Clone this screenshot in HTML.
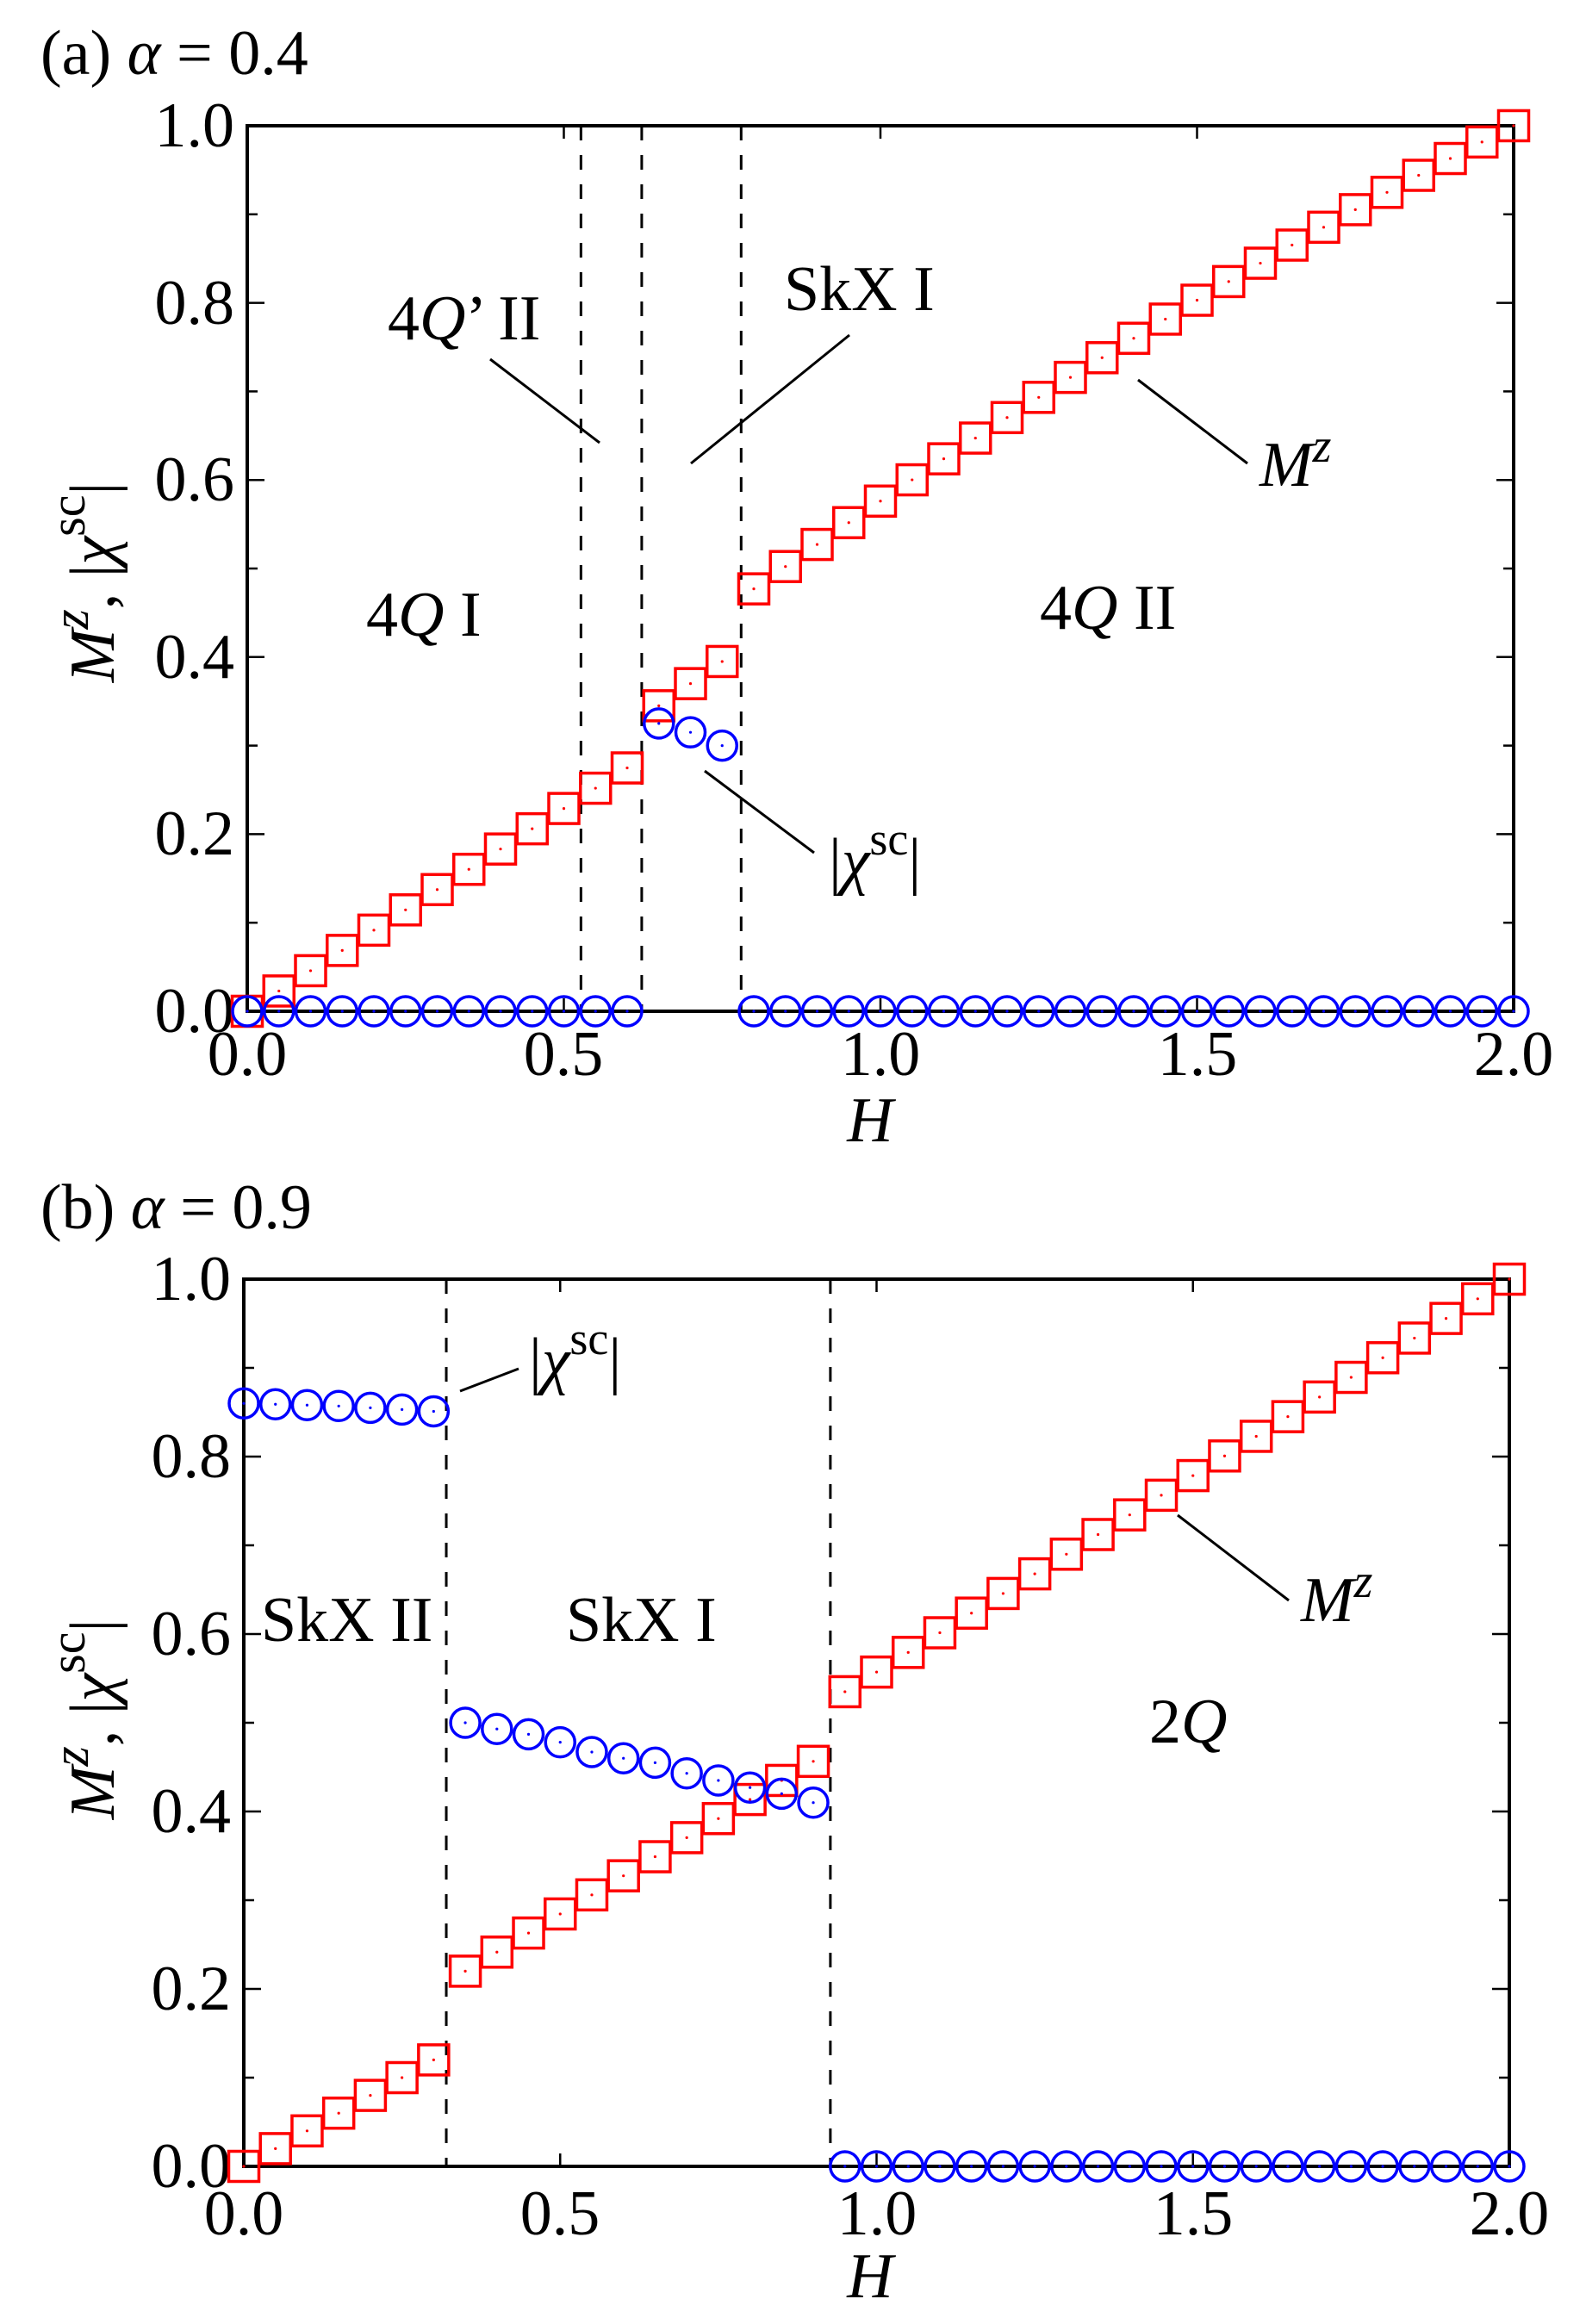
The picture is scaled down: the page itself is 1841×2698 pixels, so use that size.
<!DOCTYPE html>
<html><head><meta charset="utf-8">
<style>
html,body{margin:0;padding:0;background:#fff;}
svg{display:block;}
text{font-family:"Liberation Serif",serif;fill:#000;}
.t{font-size:74px;}
.i{font-style:italic;}
</style></head>
<body>
<svg id="s" width="1841" height="2698" viewBox="0 0 1841 2698" xmlns="http://www.w3.org/2000/svg">
<text class="t" x="47" y="86">(a) <tspan class="i">α</tspan> = 0.4</text>
<text class="t" x="450" y="394">4<tspan class="i">Q</tspan>’ II</text>
<text class="t" x="910" y="360">SkX I</text>
<text class="t" x="425" y="738">4<tspan class="i">Q</tspan> I</text>
<text class="t" x="1207" y="730">4<tspan class="i">Q</tspan> II</text>
<text class="t" x="1462" y="564"><tspan class="i">M</tspan><tspan class="i" font-size="56" dy="-28">z</tspan></text>
<text class="t" x="962" y="1024">|<tspan class="i">χ</tspan><tspan font-size="54" dy="-32">sc</tspan><tspan dy="32">|</tspan></text>
<line x1="569" y1="417" x2="696" y2="514" stroke="#000" stroke-width="3"/>
<line x1="986" y1="389" x2="802" y2="538" stroke="#000" stroke-width="3"/>
<line x1="1321" y1="441" x2="1448" y2="538" stroke="#000" stroke-width="3"/>
<line x1="818" y1="895" x2="945" y2="990" stroke="#000" stroke-width="3"/>
<text class="t i" x="1010" y="1325" text-anchor="middle">H</text>
<text class="t" font-size="84" transform="translate(132,676) rotate(-90)" text-anchor="middle"><tspan class="i">M</tspan><tspan class="i" font-size="60" dy="-30">z</tspan><tspan dy="30">, |</tspan><tspan class="i">χ</tspan><tspan font-size="58" dy="-34">sc</tspan><tspan dy="34">|</tspan></text>

<text class="t" x="47" y="1426">(b) <tspan class="i">α</tspan> = 0.9</text>
<text class="t" x="614" y="1604">|<tspan class="i">χ</tspan><tspan font-size="54" dy="-32">sc</tspan><tspan dy="32">|</tspan></text>
<line x1="534" y1="1615" x2="602" y2="1589" stroke="#000" stroke-width="3"/>
<text class="t" x="303" y="1905">SkX II</text>
<text class="t" x="657" y="1905">SkX I</text>
<text class="t" x="1510" y="1882"><tspan class="i">M</tspan><tspan class="i" font-size="56" dy="-28">z</tspan></text>
<line x1="1367" y1="1759" x2="1496" y2="1858" stroke="#000" stroke-width="3"/>
<text class="t" x="1334" y="2023">2<tspan class="i">Q</tspan></text>
<text class="t i" x="1010" y="2667" text-anchor="middle">H</text>
<text class="t" font-size="84" transform="translate(132,1996) rotate(-90)" text-anchor="middle"><tspan class="i">M</tspan><tspan class="i" font-size="60" dy="-30">z</tspan><tspan dy="30">, |</tspan><tspan class="i">χ</tspan><tspan font-size="58" dy="-34">sc</tspan><tspan dy="34">|</tspan></text>

<g class="t" text-anchor="end" font-size="74">
<text x="272" y="170">1.0</text><text x="272" y="376">0.8</text><text x="272" y="581">0.6</text><text x="272" y="787">0.4</text><text x="272" y="992">0.2</text><text x="272" y="1198">0.0</text>
</g>
<g class="t" text-anchor="middle" font-size="74">
<text x="287" y="1248">0.0</text><text x="654" y="1248">0.5</text><text x="1022" y="1248">1.0</text><text x="1390" y="1248">1.5</text><text x="1757" y="1248">2.0</text>
</g>
<g class="t" text-anchor="end" font-size="74">
<text x="268" y="1509">1.0</text><text x="268" y="1715">0.8</text><text x="268" y="1921">0.6</text><text x="268" y="2127">0.4</text><text x="268" y="2333">0.2</text><text x="268" y="2539">0.0</text>
</g>
<g class="t" text-anchor="middle" font-size="74">
<text x="283" y="2594">0.0</text><text x="650" y="2594">0.5</text><text x="1018" y="2594">1.0</text><text x="1385" y="2594">1.5</text><text x="1752" y="2594">2.0</text>
</g>
<g id="dyn"></g>
</svg>
<script>
(function(){
var NS="http://www.w3.org/2000/svg",g=document.getElementById("dyn");
function el(n,a){var e=document.createElementNS(NS,n);for(var k in a)e.setAttribute(k,a[k]);g.appendChild(e);return e;}
function panel(P){
  var X=function(h){return P.x0+(P.x1-P.x0)*h/2},Y=function(v){return P.y1-(P.y1-P.y0)*v};
  P.dash.forEach(function(h){el("line",{x1:X(h),y1:P.y0,x2:X(h),y2:P.y1,stroke:"#000","stroke-width":3,"stroke-dasharray":"17,17"});});
  el("rect",{x:P.x0,y:P.y0,width:P.x1-P.x0,height:P.y1-P.y0,fill:"none",stroke:"#000","stroke-width":4});
  for(var i=1;i<10;i++){var y=Y(i/10),L=(i%2==0)?20:12;
    el("line",{x1:P.x0,y1:y,x2:P.x0+L,y2:y,stroke:"#000","stroke-width":2.5});
    el("line",{x1:P.x1,y1:y,x2:P.x1-L,y2:y,stroke:"#000","stroke-width":2.5});}
  [0.5,1,1.5].forEach(function(h){var x=X(h);
    el("line",{x1:x,y1:P.y1,x2:x,y2:P.y1-15,stroke:"#000","stroke-width":2.5});
    el("line",{x1:x,y1:P.y0,x2:x,y2:P.y0+15,stroke:"#000","stroke-width":2.5});});
  for(var i=0;i<=40;i++){var h=i*0.05,v=P.M(h),x=X(h),y=Y(v);
    el("rect",{x:x-17.5,y:y-17.5,width:35,height:35,fill:"none",stroke:"#f00","stroke-width":3.5});
    el("circle",{cx:x,cy:y,r:1.6,fill:"#f00"});}
  for(var i=0;i<=40;i++){var h=i*0.05,v=P.C(h),x=X(h),y=Y(v);
    el("circle",{cx:x,cy:y,r:17,fill:"none",stroke:"#00f","stroke-width":3.5});
    el("circle",{cx:x,cy:y,r:1.6,fill:"#00f"});}
}
var ca={0.65:0.325,0.7:0.315,0.75:0.30};
panel({x0:287,x1:1757,y0:146,y1:1174,dash:[0.527,0.623,0.780],
  M:function(h){h=Math.round(h*100)/100;if(h<0.62)return 0.458*h;if(h<0.78)return 0.345+(h-0.65)*0.5;var t=h-0.8;return 0.477+0.5075*t-0.0597*t*t;},
  C:function(h){h=Math.round(h*100)/100;return ca[h]||0;}});
var cb=[0.86,0.859,0.858,0.857,0.855,0.853,0.851];
var cb2=[0.50,0.493,0.487,0.478,0.467,0.46,0.455,0.443,0.435,0.427,0.42,0.41];
panel({x0:283,x1:1752,y0:1485,y1:2515,dash:[0.32,0.927],
  M:function(h){h=Math.round(h*100)/100;if(h<0.32)return 0.4*h;if(h<0.92)return 0.22+(h-0.35)*0.43;return 0.535+(h-0.95)*(0.465/1.05);},
  C:function(h){var i=Math.round(h*20);if(i<=6)return cb[i];if(i<=18)return cb2[i-7];return 0;}});
})();
</script>
</body></html>
